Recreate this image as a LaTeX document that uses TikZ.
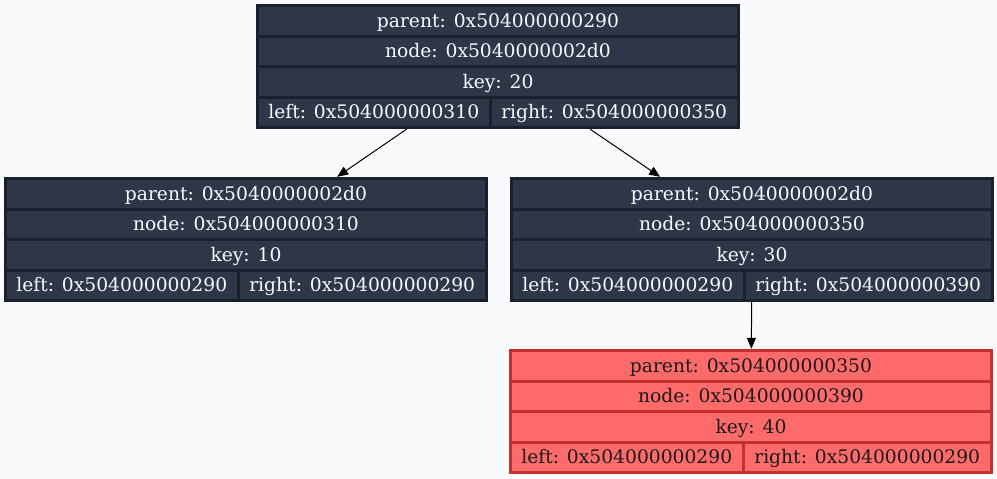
\documentclass[tikz,border=0pt]{standalone}
\usepackage{fontspec}
\setmainfont{DejaVu Serif}
\usetikzlibrary{arrows.meta}

\definecolor{bg}{HTML}{F8FAFC}
\definecolor{darkfill}{HTML}{2D3748}
\definecolor{darkline}{HTML}{1A202C}
\definecolor{darktext}{HTML}{F7FAFC}
\definecolor{redfill}{HTML}{FF6B6B}
\definecolor{redline}{HTML}{C53030}
\definecolor{redtext}{HTML}{1A1A1A}

\tikzset{
  rec/.style={rectangle, inner sep=0pt, minimum width=484pt, minimum height=125pt},
  cell/.style={rectangle, inner sep=0pt, minimum height=27.5pt,
    text height=13.4pt, text depth=0pt, font=\fontsize{18.7}{20}\selectfont},
  wide/.style={cell, minimum width=478pt},
  lcell/.style={cell, minimum width=229.5pt},
  rcell/.style={cell, minimum width=245.5pt},
  link/.style={draw=black, line width=1pt, -{Triangle[length=11pt,width=9pt]}},
}

% one tree record: name, left x, top y, colour prefix, parent, node, key, left, right
\newcommand\bstrec[9]{%
  \begin{scope}[shift={(#2,#3)}]
    \node[rec, fill=#4line] (#1) at (242,62.5) {};
    \node[wide, fill=#4fill, text=#4text] (#1-p) at (242,16.75) {parent: #5};
    \node[wide, fill=#4fill, text=#4text] (#1-n) at (242,47.25) {node: #6};
    \node[wide, fill=#4fill, text=#4text] (#1-k) at (242,77.75) {key: #7};
    \node[lcell, fill=#4fill, text=#4text] (#1-l) at (117.75,108.25) {left: #8};
    \node[rcell, fill=#4fill, text=#4text] (#1-r) at (358.25,108.25) {right: #9};
  \end{scope}}

\begin{document}
\begin{tikzpicture}[x=1pt, y=-1pt]
  \fill[bg] (0,0) rectangle (997,479);
  \useasboundingbox (0,0) rectangle (997,479);

  \bstrec{n2d0}{256}{4}{dark}{0x504000000290}{0x5040000002d0}{20}{0x504000000310}{0x504000000350}
  \bstrec{n310}{4}{177}{dark}{0x5040000002d0}{0x504000000310}{10}{0x504000000290}{0x504000000290}
  \bstrec{n350}{510}{177}{dark}{0x5040000002d0}{0x504000000350}{30}{0x504000000290}{0x504000000390}
  \bstrec{n390}{509}{349}{red}{0x504000000350}{0x504000000390}{40}{0x504000000290}{0x504000000290}

  \draw[link] (n2d0) -- (n310);
  \draw[link] (n2d0) -- (n350);
  \draw[link] (n350) -- (n390);
\end{tikzpicture}
\end{document}
